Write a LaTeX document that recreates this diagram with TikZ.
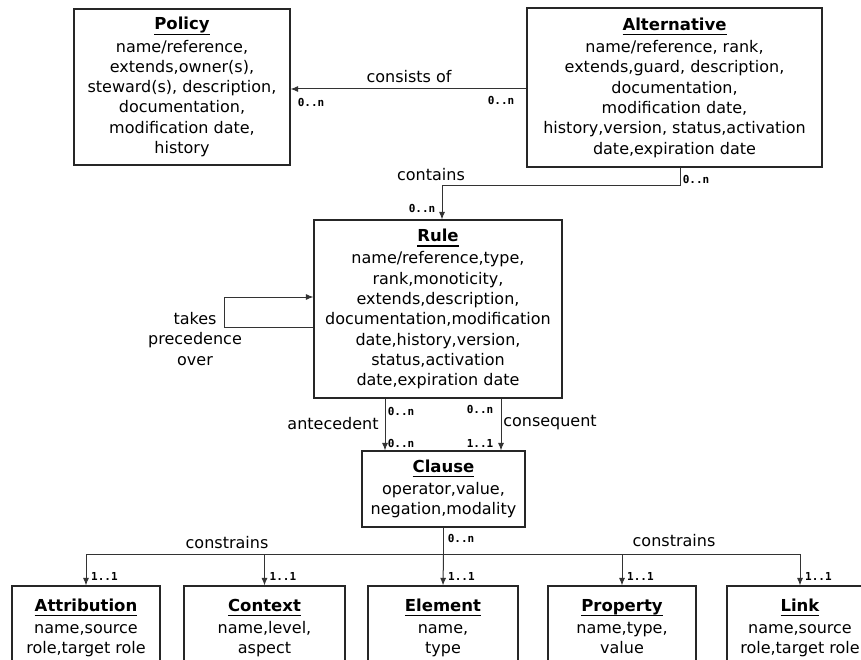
\documentclass[tikz,border=0pt]{standalone}
\usepackage{fontspec}
\setmainfont{DejaVu Sans}
\newfontfamily\cardfont{DejaVu Sans Mono}
\usetikzlibrary{arrows.meta}
% bold entity name with a firm underline at a fixed distance from the baseline
\newcommand\etitle[1]{\setbox0=\hbox{\fontsize{16.5}{20}\selectfont\bfseries #1}\dp0=0pt
  \vtop{\copy0\kern3.8pt\hrule height1.3pt width\wd0}\\[2pt]}
\begin{document}
\begin{tikzpicture}[x=1pt,y=-1pt,
  entity/.style={draw=black!85, line width=1.1pt, fill=white, inner sep=0pt,
    align=center, font=\fontsize{16}{20.3}\selectfont,
    execute at end node={\vphantom{gy}}},
  assoc/.style={draw=black!80, line width=1pt, -{Latex[length=7.5pt,width=6pt]}},
  plainline/.style={draw=black!80, line width=1pt},
  lbl/.style={font=\fontsize{16}{20.5}\selectfont, inner sep=0pt, align=center},
  card/.style={font=\cardfont\bfseries\fontsize{11}{12}\selectfont, inner sep=0pt},
]
\clip (0,0) rectangle (861,660);
\fill[white] (0,0) rectangle (861,660);

% entities
\node[entity, minimum width=216pt, minimum height=156pt] (policy) at (182,87)
  {\etitle{Policy}name/reference,\\extends,owner(s),\\steward(s), description,\\documentation,\\modification date,\\history};
\node[entity, minimum width=295pt, minimum height=159pt] (alt) at (674.5,87.5)
  {\etitle{Alternative}name/reference, rank,\\extends,guard, description,\\documentation,\\modification date,\\history,version, status,activation\\date,expiration date};
\node[entity, minimum width=248pt, minimum height=178pt] (rule) at (438,309)
  {\etitle{Rule}name/reference,type,\\rank,monoticity,\\extends,description,\\documentation,modification\\date,history,version,\\status,activation\\date,expiration date};
\node[entity, minimum width=163pt, minimum height=76pt] (clause) at (443.5,489)
  {\etitle{Clause}operator,value,\\negation,modality};

\node[entity, minimum width=148pt, minimum height=84pt] (attr) at (86,628)
  {\etitle{Attribution}name,source\\role,target role};
\node[entity, minimum width=161pt, minimum height=84pt] (ctx) at (264.5,628)
  {\etitle{Context}name,level,\\aspect};
\node[entity, minimum width=150pt, minimum height=84pt] (elem) at (443,628)
  {\etitle{Element}name,\\type};
\node[entity, minimum width=148pt, minimum height=84pt] (prop) at (622,628)
  {\etitle{Property}name,type,\\value};
\node[entity, minimum width=146pt, minimum height=84pt] (lnk) at (800,628)
  {\etitle{Link}name,source\\role,target role};

% Alternative consists of Policy
\coordinate (cs) at ([yshift=-1.5pt]alt.west);
\draw[assoc] (cs) -- (cs -| policy.east);
\node[lbl] (l-consists) at (409,77) {consists of};
\node[card] (c-cs1) at (311,102) {0..n};
\node[card] (c-cs2) at (501,100) {0..n};

% Alternative contains Rule
\draw[assoc] ([xshift=5.5pt]alt.south) -- ++(0,18) -| ([xshift=4pt]rule.north);
\node[lbl] (l-contains) at (431,175) {contains};
\node[card] (c-ct1) at (422,208) {0..n};
\node[card] (c-ct2) at (696,179) {0..n};

% Rule takes precedence over Rule
\draw[assoc] ([yshift=-18pt]rule.west) -- ++(-89,0) |- ([yshift=12pt]rule.west);
\node[lbl] (l-prec) at (195,339) {takes\\precedence\\over};

% Rule antecedent / consequent Clause
\coordinate (ante) at ([xshift=-53pt]rule.south);
\coordinate (cons) at ([xshift=63pt]rule.south);
\draw[assoc] (ante) -- (ante |- clause.north);
\draw[assoc] (cons) -- (cons |- clause.north);
\node[lbl] (l-ante) at (333,424) {antecedent};
\node[lbl] (l-cons) at (550,423) {consequent};
\node[card] (c-a1) at (401,411) {0..n};
\node[card] (c-a2) at (401,443) {0..n};
\node[card] (c-q1) at (480,409) {0..n};
\node[card] (c-q2) at (480,443) {1..1};

% Clause constrains the model elements
\draw[plainline] (clause.south) -- ++(0,27) coordinate (hub);
\draw[assoc] (hub) -| (attr.north);
\draw[assoc] (hub) -| (ctx.north);
\draw[assoc] (hub) -- (elem.north);
\draw[assoc] (hub) -| (prop.north);
\draw[assoc] (hub) -| (lnk.north);
\node[card] (c-cl) at (461,538) {0..n};
\node[lbl] (l-con1) at (227,543) {constrains};
\node[lbl] (l-con2) at (674,541) {constrains};
\node[card, anchor=west] (c-at) at ([xshift=5pt,yshift=9pt]attr.north) {1..1};
\node[card, anchor=west] (c-cx) at ([xshift=5pt,yshift=9pt]ctx.north) {1..1};
\node[card, anchor=west] (c-el) at ([xshift=5pt,yshift=9pt]elem.north) {1..1};
\node[card, anchor=west] (c-pr) at ([xshift=5pt,yshift=9pt]prop.north) {1..1};
\node[card, anchor=west] (c-lk) at ([xshift=5pt,yshift=9pt]lnk.north) {1..1};
\end{tikzpicture}
\end{document}
